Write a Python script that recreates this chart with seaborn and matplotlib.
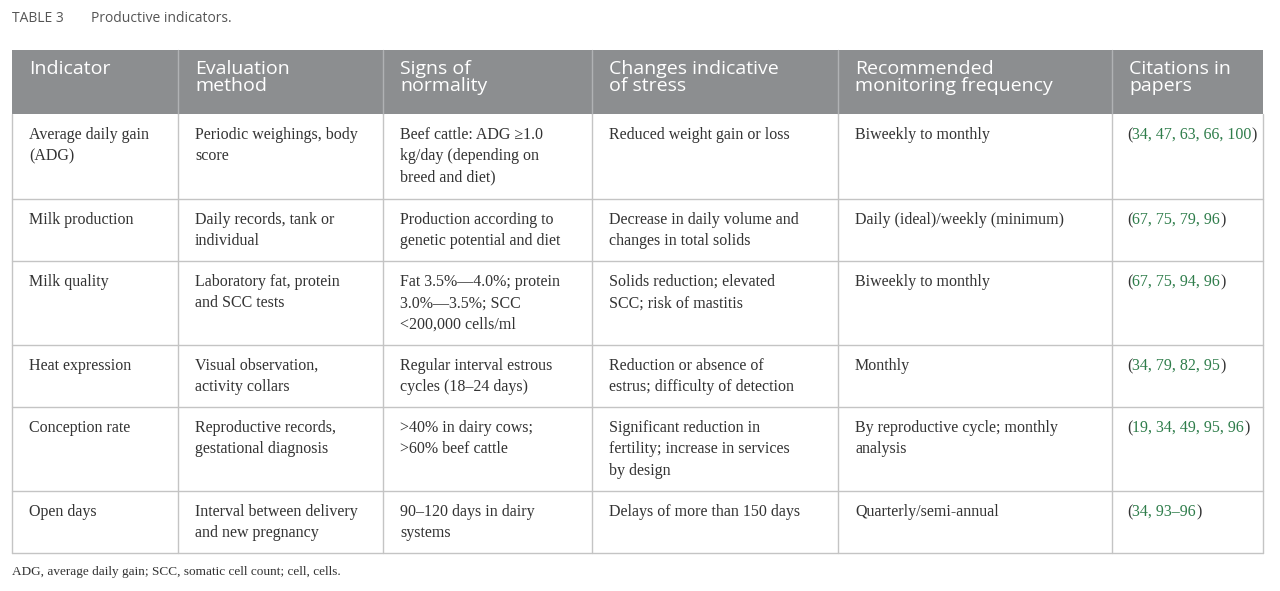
import matplotlib.pyplot as plt
import seaborn as sns

sns.set_theme(style="white")
plt.rcParams["font.family"] = ["Liberation Serif", "DejaVu Serif"]

title_label = "TABLE 3"
title_text = "Productive indicators."
footnote = "ADG, average daily gain; SCC, somatic cell count; cell, cells."

headers = ["Indicator", "Evaluation\nmethod", "Signs of\nnormality", "Changes indicative\nof stress",
           "Recommended\nmonitoring frequency", "Citations in\npapers"]
indicators = ["Average daily gain\n(ADG)", "Milk production", "Milk quality", "Heat expression",
              "Conception rate", "Open days"]
methods = ["Periodic weighings, body\nscore", "Daily records, tank or\nindividual",
           "Laboratory fat, protein\nand SCC tests", "Visual observation,\nactivity collars",
           "Reproductive records,\ngestational diagnosis", "Interval between delivery\nand new pregnancy"]
normality = ["Beef cattle: ADG \u22651.0\nkg/day (depending on\nbreed and diet)",
             "Production according to\ngenetic potential and diet",
             "Fat 3.5%\u20144.0%; protein\n3.0%\u20143.5%; SCC\n<200,000 cells/ml",
             "Regular interval estrous\ncycles (18\u201324 days)",
             ">40% in dairy cows;\n>60% beef cattle", "90\u2013120 days in dairy\nsystems"]
stress = ["Reduced weight gain or loss", "Decrease in daily volume and\nchanges in total solids",
          "Solids reduction; elevated\nSCC; risk of mastitis",
          "Reduction or absence of\nestrus; difficulty of detection",
          "Significant reduction in\nfertility; increase in services\nby design",
          "Delays of more than 150 days"]
frequency = ["Biweekly to monthly", "Daily (ideal)/weekly (minimum)", "Biweekly to monthly", "Monthly",
             "By reproductive cycle; monthly\nanalysis", "Quarterly/semi-annual"]
citations = ["34, 47, 63, 66, 100", "67, 75, 79, 96", "67, 75, 94, 96", "34, 79, 82, 95",
             "19, 34, 49, 95, 96", "34, 93\u201396"]

col_edges = [12, 178, 383, 592, 838, 1112, 1263]
row_edges = [114, 199, 261, 345, 407, 491, 553]
header_top = 50

fig = plt.figure(figsize=(12.8, 5.91), dpi=100)
ax = fig.add_axes([0, 0, 1, 1])
ax.set_xlim(0, 1280)
ax.set_ylim(591, 0)
ax.axis("off")

grey = "#8c8e90"
line_c = "#c4c4c4"
text_c = "#333333"
green = "#2f7d4b"

ax.add_patch(plt.Rectangle((col_edges[0], header_top), col_edges[-1] - col_edges[0],
                           row_edges[0] - header_top, color=grey, lw=0))
for x in col_edges[1:-1]:
    ax.plot([x, x], [header_top, row_edges[0]], color="#b0b2b4", lw=1)
for x in col_edges:
    ax.plot([x, x], [row_edges[0], row_edges[-1]], color=line_c, lw=1)
for y in row_edges[1:]:
    ax.plot([col_edges[0], col_edges[-1]], [y, y], color=line_c, lw=1)

ax.text(12, 18, title_label, fontsize=10, color="#555555", family="Open Sans", va="center")
ax.text(91, 18, title_text, fontsize=10, color="#555555", family="Open Sans", va="center")
ax.text(12, 572, footnote, fontsize=9.5, color=text_c, va="center")

for i, h in enumerate(headers):
    ax.text(col_edges[i] + 17, 60, h, fontsize=14, color="white", family="Open Sans",
            va="top", linespacing=0.95)

columns = [indicators, methods, normality, stress, frequency]
for r in range(len(indicators)):
    y = row_edges[r] + 13
    for c, col in enumerate(columns):
        ax.text(col_edges[c] + 17, y, col[r], fontsize=11.5, color=text_c, va="top", linespacing=1.45)
    x0 = col_edges[5] + 15
    t1 = ax.text(x0, y, "(", fontsize=11.5, color=text_c, va="top")
    fig.canvas.draw()
    bb = t1.get_window_extent()
    t2 = ax.text(x0 + bb.width, y, citations[r], fontsize=11.5, color=green, va="top")
    fig.canvas.draw()
    bb2 = t2.get_window_extent()
    ax.text(x0 + bb.width + bb2.width, y, ")", fontsize=11.5, color=text_c, va="top")

fig.savefig("out.png", dpi=100)
